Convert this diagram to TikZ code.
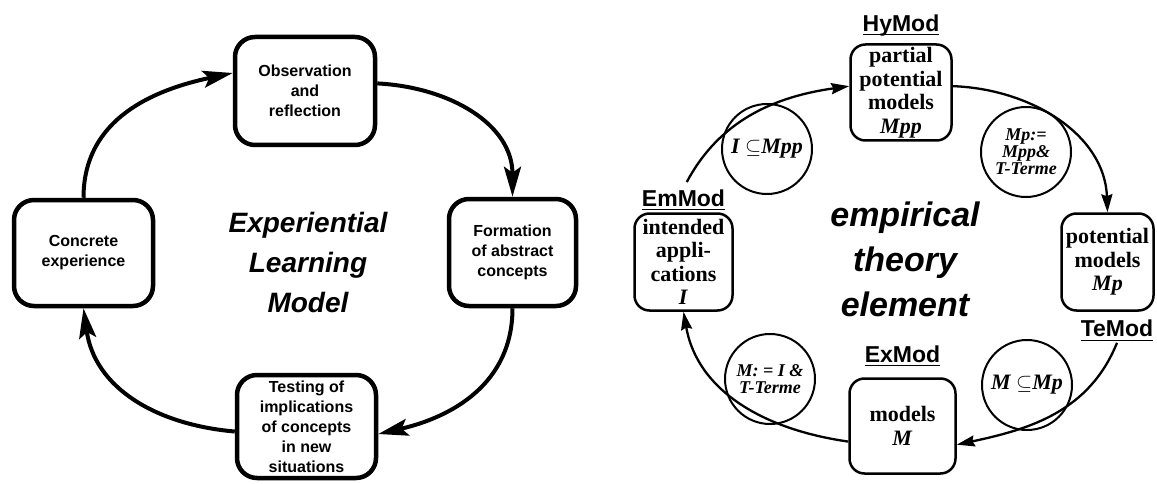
\documentclass[tikz,border=0pt]{standalone}
\usepackage{amsmath}
\usepackage{fontspec}
\setmainfont{Liberation Serif}
\setsansfont{Liberation Sans}
\usetikzlibrary{arrows.meta,positioning}
\tikzstyle{stage}=[draw,line width=4.5pt,rounded corners=20pt,align=center,inner sep=2pt,font=\sffamily\bfseries\fontsize{16}{20}\selectfont]
\tikzstyle{cyclearrow}=[line width=4pt,looseness=1.05,-{Stealth[length=30pt,width=17pt,inset=6pt]}]
\tikzstyle{modbox}=[draw,line width=2.5pt,rounded corners=15pt,align=center,inner sep=1pt,font=\bfseries\fontsize{22}{23.5}\selectfont]
\tikzstyle{modlabel}=[inner sep=1pt,font=\sffamily\bfseries\fontsize{23}{23}\selectfont]
\tikzstyle{relation}=[draw,circle,line width=2pt,minimum size=90pt,inner sep=0pt,align=center,font=\bfseries\itshape\fontsize{22}{22}\selectfont]
\tikzstyle{relarrow}=[line width=2.3pt,looseness=1.0,-{Stealth[length=18pt,width=11pt,inset=2pt]}]
\tikzstyle{heading}=[align=center,font=\sffamily\bfseries\itshape]

\begin{document}
\begin{tikzpicture}[x=1pt,y=1pt]
\useasboundingbox (0,0) rectangle (1157,483);

% learning cycle
\node [stage, minimum width=140pt, minimum height=108pt] (obs) at (305,392) {Observation\\and\\reflection};
\node [stage, minimum width=139pt, minimum height=106pt] (conc) at (83.5,230) {Concrete\\experience};
\node [stage, minimum width=127pt, minimum height=107pt] (form) at (512.5,230.5) {Formation\\of abstract\\concepts};
\node [stage, minimum width=139pt, minimum height=103pt] (test) at (306.5,56.5) {Testing of\\implications\\of concepts\\in new\\situations};
\node [heading, font=\sffamily\bfseries\itshape\fontsize{28}{40}\selectfont] (elm) at (308,221) {Experiential\\Learning\\Model};

\draw [cyclearrow] (conc.north) to[out=90,in=192] (obs.166);
\draw [cyclearrow] (obs.6) to[out=-3,in=90] (form.north);
\draw [cyclearrow] (form.south) to[out=-90,in=13] (test.-6);
\draw [cyclearrow] (test.184) to[out=175,in=-82] (conc.south);

% theory element
\node [modbox, minimum width=101pt, minimum height=96pt] (pp) at (901,390.5) {partial\\potential\\models\\\textit{Mpp}};
\node [modbox, minimum width=98pt, minimum height=97pt] (ia) at (683.5,221) {intended\\appli-\\cations\\\textit{I}};
\node [modbox, minimum width=92pt, minimum height=97pt] (pm) at (1107.5,221) {potential\\models\\\textit{Mp}};
\node [modbox, minimum width=106pt, minimum height=95pt] (mod) at (902.5,57) {models\\\textit{M}};

\node [modlabel, above=6pt of pp] (hymod) {\underline{\smash[b]{HyMod}}};
\node [modlabel, above=0pt of ia] (emmod) {\underline{\smash[b]{EmMod}}};
\node [modlabel, above=9pt of mod] (exmod) {\underline{\smash[b]{ExMod}}};
\node [modlabel, below=7pt of pm, xshift=9.5pt] (temod) {\underline{\smash[b]{TeMod}}};

\node [relation] (incl1) at (767,334) {I $\subseteq$Mpp};
\node [relation, font=\bfseries\itshape\fontsize{18}{17}\selectfont] (defmp) at (1026,331) {Mp:=\\Mpp\&\\T-Terme};
\node [relation] (incl2) at (1027,98) {M $\subseteq$Mp};
\node [relation, font=\bfseries\itshape\fontsize{18}{17}\selectfont] (defm) at (770,104) {M: = I \&\\T-Terme};

\node [heading, font=\sffamily\bfseries\itshape\fontsize{34}{45}\selectfont] (ete) at (905,224) {empirical\\theory\\element};

\draw [relarrow, shorten <=7pt] (emmod.north) to[out=62,in=188] (pp.173);
\draw [relarrow] (pp.7) to[out=-2,in=92] (pm.north);
\draw [relarrow] (temod.south) to[out=-112,in=12] (mod.-19);
\draw [relarrow] (mod.196) to[out=172,in=-80] (ia.south);
\end{tikzpicture}
\end{document}
